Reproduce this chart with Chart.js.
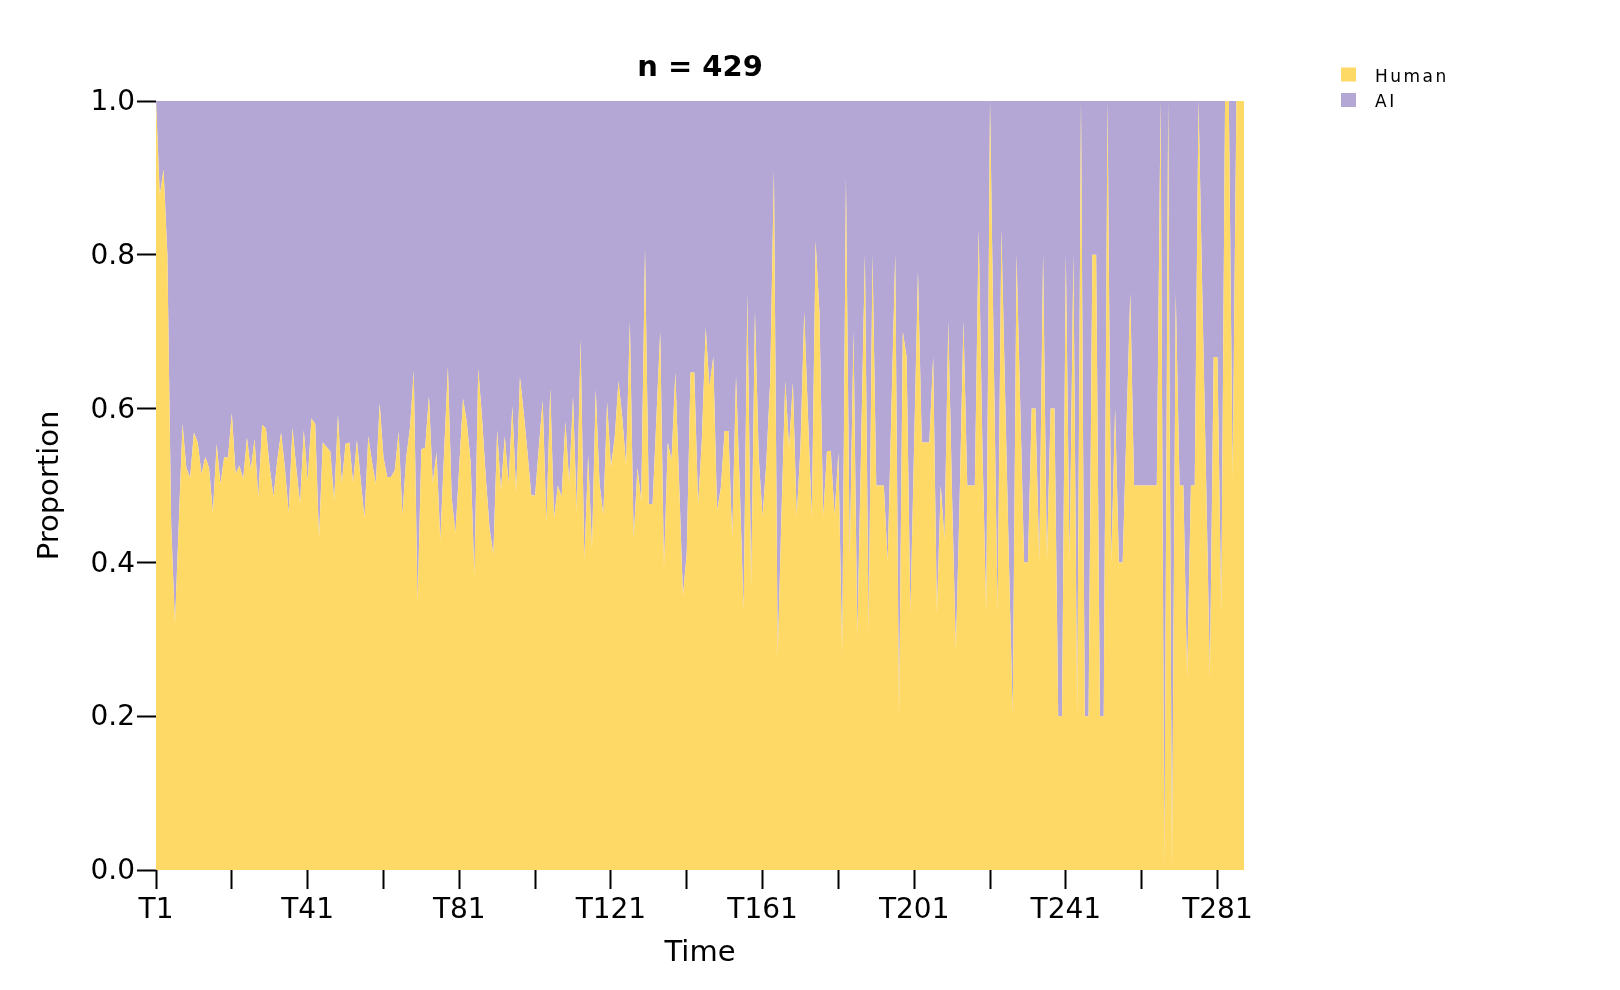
<!DOCTYPE html>
<html>
<head>
<meta charset="utf-8">
<script src="https://cdn.jsdelivr.net/npm/chart.js@4.4.0/dist/chart.umd.min.js"></script>
<style>
  html, body { margin: 0; padding: 0; background: #fff; }
  canvas { display: block; }
</style>
</head>
<body>
<canvas id="areaChart" width="1620" height="990"></canvas>
<script>
/* ── Data: share of Human turns per time step (AI = remainder) ── */
const humanShare = [
  1.0, 0.877, 0.911, 0.80, 0.45, 0.32, 0.45, 0.58, 0.523, 0.51,
  0.569, 0.556, 0.515, 0.537, 0.523, 0.464, 0.554, 0.502, 0.537, 0.536,
  0.594, 0.515, 0.526, 0.508, 0.562, 0.52, 0.56, 0.484, 0.579, 0.574,
  0.523, 0.485, 0.533, 0.569, 0.523, 0.464, 0.575, 0.523, 0.476, 0.572,
  0.505, 0.587, 0.58, 0.431, 0.556, 0.55, 0.544, 0.48, 0.592, 0.502,
  0.554, 0.556, 0.503, 0.559, 0.507, 0.457, 0.564, 0.53, 0.502, 0.607,
  0.537, 0.511, 0.511, 0.52, 0.57, 0.461, 0.536, 0.575, 0.649, 0.346,
  0.547, 0.549, 0.616, 0.503, 0.543, 0.428, 0.543, 0.654, 0.484, 0.438,
  0.525, 0.613, 0.582, 0.53, 0.382, 0.652, 0.588, 0.51, 0.444, 0.41,
  0.572, 0.493, 0.564, 0.503, 0.603, 0.49, 0.641, 0.595, 0.543, 0.487,
  0.487, 0.55, 0.611, 0.451, 0.626, 0.457, 0.5, 0.485, 0.583, 0.503,
  0.615, 0.465, 0.69, 0.402, 0.539, 0.418, 0.625, 0.503, 0.461, 0.608,
  0.524, 0.562, 0.636, 0.588, 0.526, 0.713, 0.43, 0.523, 0.48, 0.808,
  0.476, 0.476, 0.588, 0.70, 0.392, 0.556, 0.533, 0.647, 0.503, 0.356,
  0.412, 0.647, 0.647, 0.474, 0.56, 0.705, 0.628, 0.667, 0.467, 0.497,
  0.571, 0.571, 0.431, 0.642, 0.497, 0.336, 0.749, 0.369, 0.726, 0.536,
  0.459, 0.53, 0.634, 0.91, 0.277, 0.464, 0.636, 0.549, 0.634, 0.459,
  0.549, 0.726, 0.588, 0.459, 0.818, 0.726, 0.459, 0.545, 0.545, 0.461,
  0.543, 0.28, 0.90, 0.402, 0.70, 0.303, 0.55, 0.80, 0.307, 0.80,
  0.50, 0.50, 0.50, 0.40, 0.60, 0.80, 0.20, 0.70, 0.667, 0.333,
  0.556, 0.778, 0.556, 0.556, 0.556, 0.667, 0.333, 0.50, 0.429, 0.714,
  0.484, 0.286, 0.484, 0.714, 0.50, 0.50, 0.50, 0.833, 0.55, 0.333,
  1.0, 0.667, 0.333, 0.833, 0.616, 0.40, 0.20, 0.80, 0.60, 0.40,
  0.40, 0.60, 0.60, 0.40, 0.80, 0.40, 0.60, 0.60, 0.20, 0.20,
  0.80, 0.40, 0.80, 0.20, 1.0, 0.20, 0.20, 0.80, 0.80, 0.20,
  0.20, 1.0, 0.40, 0.60, 0.40, 0.40, 0.575, 0.75, 0.50, 0.50,
  0.50, 0.50, 0.50, 0.50, 0.50, 1.0, 0.0, 1.0, 0.0, 0.75,
  0.50, 0.50, 0.25, 0.50, 0.50, 1.0, 0.75, 0.51, 0.25, 0.667,
  0.667, 0.333, 1.0, 1.0, 0.51, 1.0, 1.0, 1.0
];
const aiShare = humanShare.map(v => +(1 - v).toFixed(3));
const timeLabels = humanShare.map((_, i) => 'T' + (i + 1));
const seriesNames = ['Human', 'AI'];
const seriesColors = ['#FFD966', '#B4A7D6'];
const yTickValues = [0, 0.2, 0.4, 0.6, 0.8, 1.0];
const titleText = 'n = 429';

const FONT = '"DejaVu Sans", sans-serif';

/* ── Title + legend drawn on top ───────────────────────────── */
const overlay = {
  id: 'overlay',
  afterDraw(chart) {
    const { ctx, chartArea } = chart;
    ctx.save();
    ctx.fillStyle = '#000';
    ctx.font = 'bold 29px ' + FONT;
    ctx.textAlign = 'center';
    ctx.textBaseline = 'alphabetic';
    ctx.fillText(titleText, (chartArea.left + chartArea.right) / 2, 76);

    ctx.font = '17px ' + FONT;
    ctx.textAlign = 'left';
    if ('letterSpacing' in ctx) ctx.letterSpacing = '2.5px';
    seriesNames.forEach((name, k) => {
      const cy = 74.5 + k * 25.5;
      ctx.fillStyle = seriesColors[k];
      ctx.fillRect(1341, cy - 7, 15, 14);
      ctx.fillStyle = '#000';
      ctx.fillText(name, 1375, cy + 7);
    });
    ctx.restore();
  }
};

new Chart(document.getElementById('areaChart'), {
  type: 'line',
  data: {
    labels: timeLabels,
    datasets: [
      {
        label: seriesNames[0],
        data: humanShare,
        backgroundColor: seriesColors[0],
        borderColor: 'rgba(0,0,0,0)',
        borderWidth: 0,
        pointRadius: 0,
        fill: 'origin',
        tension: 0
      },
      {
        label: seriesNames[1],
        data: aiShare,
        backgroundColor: seriesColors[1],
        borderColor: 'rgba(0,0,0,0)',
        borderWidth: 0,
        pointRadius: 0,
        fill: '-1',
        tension: 0
      }
    ]
  },
  options: {
    responsive: false,
    animation: false,
    devicePixelRatio: 1,
    layout: { padding: { left: 33, right: 376, top: 101, bottom: 19 } },
    plugins: {
      legend: { display: false },
      title: { display: false },
      tooltip: { enabled: false }
    },
    scales: {
      x: {
        type: 'category',
        offset: false,
        grid: {
          drawOnChartArea: false,
          drawTicks: true,
          tickLength: 19,
          tickWidth: 2,
          tickColor: '#000',
          color: '#000'
        },
        border: { display: false },
        ticks: {
          autoSkip: false,
          maxRotation: 0,
          minRotation: 0,
          padding: 5,
          color: '#000',
          font: { family: FONT, size: 28 },
          callback: (v, i) => (i % 20 ? null : (i % 40 ? '' : timeLabels[i]))
        },
        title: {
          display: true,
          text: 'Time',
          color: '#000',
          font: { family: FONT, size: 29 },
          padding: 0
        },
        afterFit: s => { s.height = 101; }
      },
      y: {
        stacked: true,
        min: 0,
        max: 1,
        grid: {
          drawOnChartArea: false,
          drawTicks: true,
          tickLength: 19,
          tickWidth: 2,
          tickColor: '#000',
          color: '#000'
        },
        border: { display: false },
        afterBuildTicks: s => { s.ticks = yTickValues.map(v => ({ value: v })); },
        ticks: {
          padding: 2,
          labelOffset: 2,
          color: '#000',
          font: { family: FONT, size: 28 },
          callback: v => Number(v).toFixed(1)
        },
        title: {
          display: true,
          text: 'Proportion',
          color: '#000',
          font: { family: FONT, size: 29 },
          padding: 0
        },
        afterFit: s => { s.width = 123; }
      }
    }
  },
  plugins: [overlay]
});
</script>
</body>
</html>
